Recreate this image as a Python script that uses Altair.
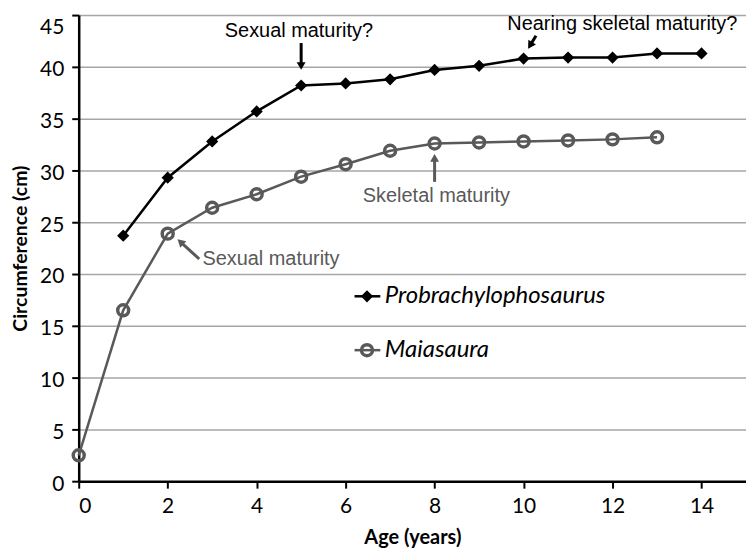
import math
import altair as alt
import pandas as pd

# Data
pro_age = [1, 2, 3, 4, 5, 6, 7, 8, 9, 10, 11, 12, 13, 14]
pro_circ = [23.7, 29.3, 32.8, 35.7, 38.2, 38.4, 38.8, 39.7, 40.1, 40.8, 40.9, 40.9, 41.3, 41.3]
mai_age = [0, 1, 2, 3, 4, 5, 6, 7, 8, 9, 10, 11, 12, 13]
mai_circ = [2.5, 16.5, 23.9, 26.4, 27.7, 29.4, 30.6, 31.9, 32.6, 32.7, 32.8, 32.9, 33.0, 33.2]

# Annotations: text, x, y
ann_text = ["Sexual maturity?", "Nearing skeletal maturity?", "Skeletal maturity", "Sexual maturity"]
ann_x = [4.95, 12.22, 8.04, 2.78]
ann_y = [43.5, 44.1, 27.5, 21.4]
ann_color = ["black", "black", "#595959", "#595959"]
ann_align = ["center", "center", "center", "left"]

# Arrows: tail (x, y) -> tip (x, y)
arr_x = [5.0, 10.28, 8.0, 2.71]
arr_y = [42.3, 43.0, 28.9, 21.45]
arr_x2 = [5.0, 10.10, 8.0, 2.22]
arr_y2 = [39.7, 41.75, 31.6, 23.36]
arr_color = ["black", "black", "#595959", "#595959"]

FONT = "Lato"
AFONT = "Liberation Sans"
GRAY = "#595959"

W, H = 670, 468
XMAX, YMAX = 15, 45
PX_X = W / XMAX
PX_Y = H / YMAX

# arrowhead placement (center slightly behind the tip, rotated along the shaft)
head_x, head_y, head_ang = [], [], []
for x1, y1, x2, y2 in zip(arr_x, arr_y, arr_x2, arr_y2):
    dxp = (x2 - x1) * PX_X
    dyp = -(y2 - y1) * PX_Y
    L = math.hypot(dxp, dyp)
    ux, uy = dxp / L, dyp / L
    back = 4.0
    head_x.append(x2 - ux * back / PX_X)
    head_y.append(y2 + uy * back / PX_Y)
    head_ang.append((math.degrees(math.atan2(dxp, -dyp)) + 360) % 360)

x_scale = alt.Scale(domain=[0, XMAX], nice=False)
y_scale = alt.Scale(domain=[0, YMAX], nice=False)

pro = pd.DataFrame({"age": pro_age, "circ": pro_circ})
mai = pd.DataFrame({"age": mai_age, "circ": mai_circ})

xenc = alt.X("age:Q", scale=x_scale,
             axis=alt.Axis(values=list(range(0, 15, 2)), title="Age (years)", grid=False,
                           domainColor="black", domainWidth=2.5, tickColor="black",
                           tickWidth=2, tickSize=7, labelFont=FONT, labelFontSize=21,
                           labelColor="black", labelPadding=7, titleFont=FONT,
                           titleFontSize=20, titleFontWeight="bold", titleColor="black",
                           titlePadding=12))
yenc = alt.Y("circ:Q", scale=y_scale,
             axis=alt.Axis(values=list(range(0, 46, 5)), title="Circumference (cm)",
                           grid=True, gridColor="#a6a6a6", gridWidth=1.5,
                           domainColor="black", domainWidth=2.5, tickColor="black",
                           tickWidth=2, tickSize=7, labelFont=FONT, labelFontSize=21,
                           labelColor="black", labelPadding=8,
                           labelOffset={"condition": {"test": "datum.value >= 45", "value": 12},
                                        "value": 3},
                           titleFont=FONT, titleFontSize=19.5, titleFontWeight="bold",
                           titleColor="black", titlePadding=9))

base_mai = alt.Chart(mai)
mai_line = base_mai.mark_line(color=GRAY, strokeWidth=2.5).encode(x=xenc, y=yenc)
mai_pts = base_mai.mark_point(shape="circle", filled=False, color=GRAY, size=121,
                              strokeWidth=3.5, opacity=1).encode(x="age:Q", y="circ:Q")

base_pro = alt.Chart(pro)
pro_line = base_pro.mark_line(color="black", strokeWidth=2.5).encode(x="age:Q", y="circ:Q")
pro_pts = base_pro.mark_point(shape="diamond", filled=True, color="black", size=150,
                              opacity=1).encode(x="age:Q", y="circ:Q")

ann = pd.DataFrame({"t": ann_text, "x": ann_x, "y": ann_y, "c": ann_color, "a": ann_align})
ann_center = alt.Chart(ann[ann["a"] == "center"]).mark_text(
    font=AFONT, fontSize=20, align="center", baseline="middle").encode(
    x="x:Q", y="y:Q", text="t:N", color=alt.Color("c:N", scale=None))
ann_left = alt.Chart(ann[ann["a"] == "left"]).mark_text(
    font=AFONT, fontSize=20, align="left", baseline="middle").encode(
    x="x:Q", y="y:Q", text="t:N", color=alt.Color("c:N", scale=None))

arr = pd.DataFrame({"x": arr_x, "y": arr_y, "x2": arr_x2, "y2": arr_y2,
                    "hx": head_x, "hy": head_y, "ang": head_ang, "c": arr_color})
arr_shaft = alt.Chart(arr).mark_rule(strokeWidth=3).encode(
    x="x:Q", y="y:Q", x2="hx:Q", y2="hy:Q", color=alt.Color("c:N", scale=None))
arr_head = alt.Chart(arr).mark_point(shape="triangle-up", filled=True, size=80,
                                     opacity=1).encode(
    x="hx:Q", y="hy:Q", angle=alt.Angle("ang:Q", scale=None),
    color=alt.Color("c:N", scale=None))

# Legend (drawn in data space)
leg_names = ["Probrachylophosaurus", "Maiasaura"]
leg_y = [17.85, 12.65]
leg_x_line = [6.2, 6.78]
leg_x_marker = 6.48
leg_x_text = 6.88

leg_line_df = pd.DataFrame({"x": [leg_x_line[0]] * 2, "x2": [leg_x_line[1]] * 2,
                            "y": leg_y, "c": ["black", GRAY]})
leg_lines = alt.Chart(leg_line_df).mark_rule(strokeWidth=2.5).encode(
    x="x:Q", x2="x2:Q", y="y:Q", color=alt.Color("c:N", scale=None))
leg_d = alt.Chart(pd.DataFrame({"x": [leg_x_marker], "y": [leg_y[0]]})).mark_point(
    shape="diamond", filled=True, color="black", size=150, opacity=1).encode(x="x:Q", y="y:Q")
leg_c = alt.Chart(pd.DataFrame({"x": [leg_x_marker], "y": [leg_y[1]]})).mark_point(
    shape="circle", filled=False, color=GRAY, size=121, strokeWidth=3.5,
    opacity=1).encode(x="x:Q", y="y:Q")
leg_text = alt.Chart(pd.DataFrame({"x": [leg_x_text] * 2, "y": leg_y, "t": leg_names})).mark_text(
    font=FONT, fontSize=24, fontStyle="italic", align="left", baseline="middle",
    color="black").encode(x="x:Q", y="y:Q", text="t:N")

chart = alt.layer(
    mai_line, mai_pts, pro_line, pro_pts,
    arr_shaft, arr_head, ann_center, ann_left,
    leg_lines, leg_d, leg_c, leg_text,
).properties(
    width=W, height=H,
    autosize=alt.AutoSizeParams(type="none"),
    padding={"left": 71, "top": 6, "right": 0, "bottom": 70},
).configure_view(
    stroke="black", strokeWidth=2
).configure(background="white")

chart.save("out.html", embed_options={"renderer": "svg", "actions": False})
